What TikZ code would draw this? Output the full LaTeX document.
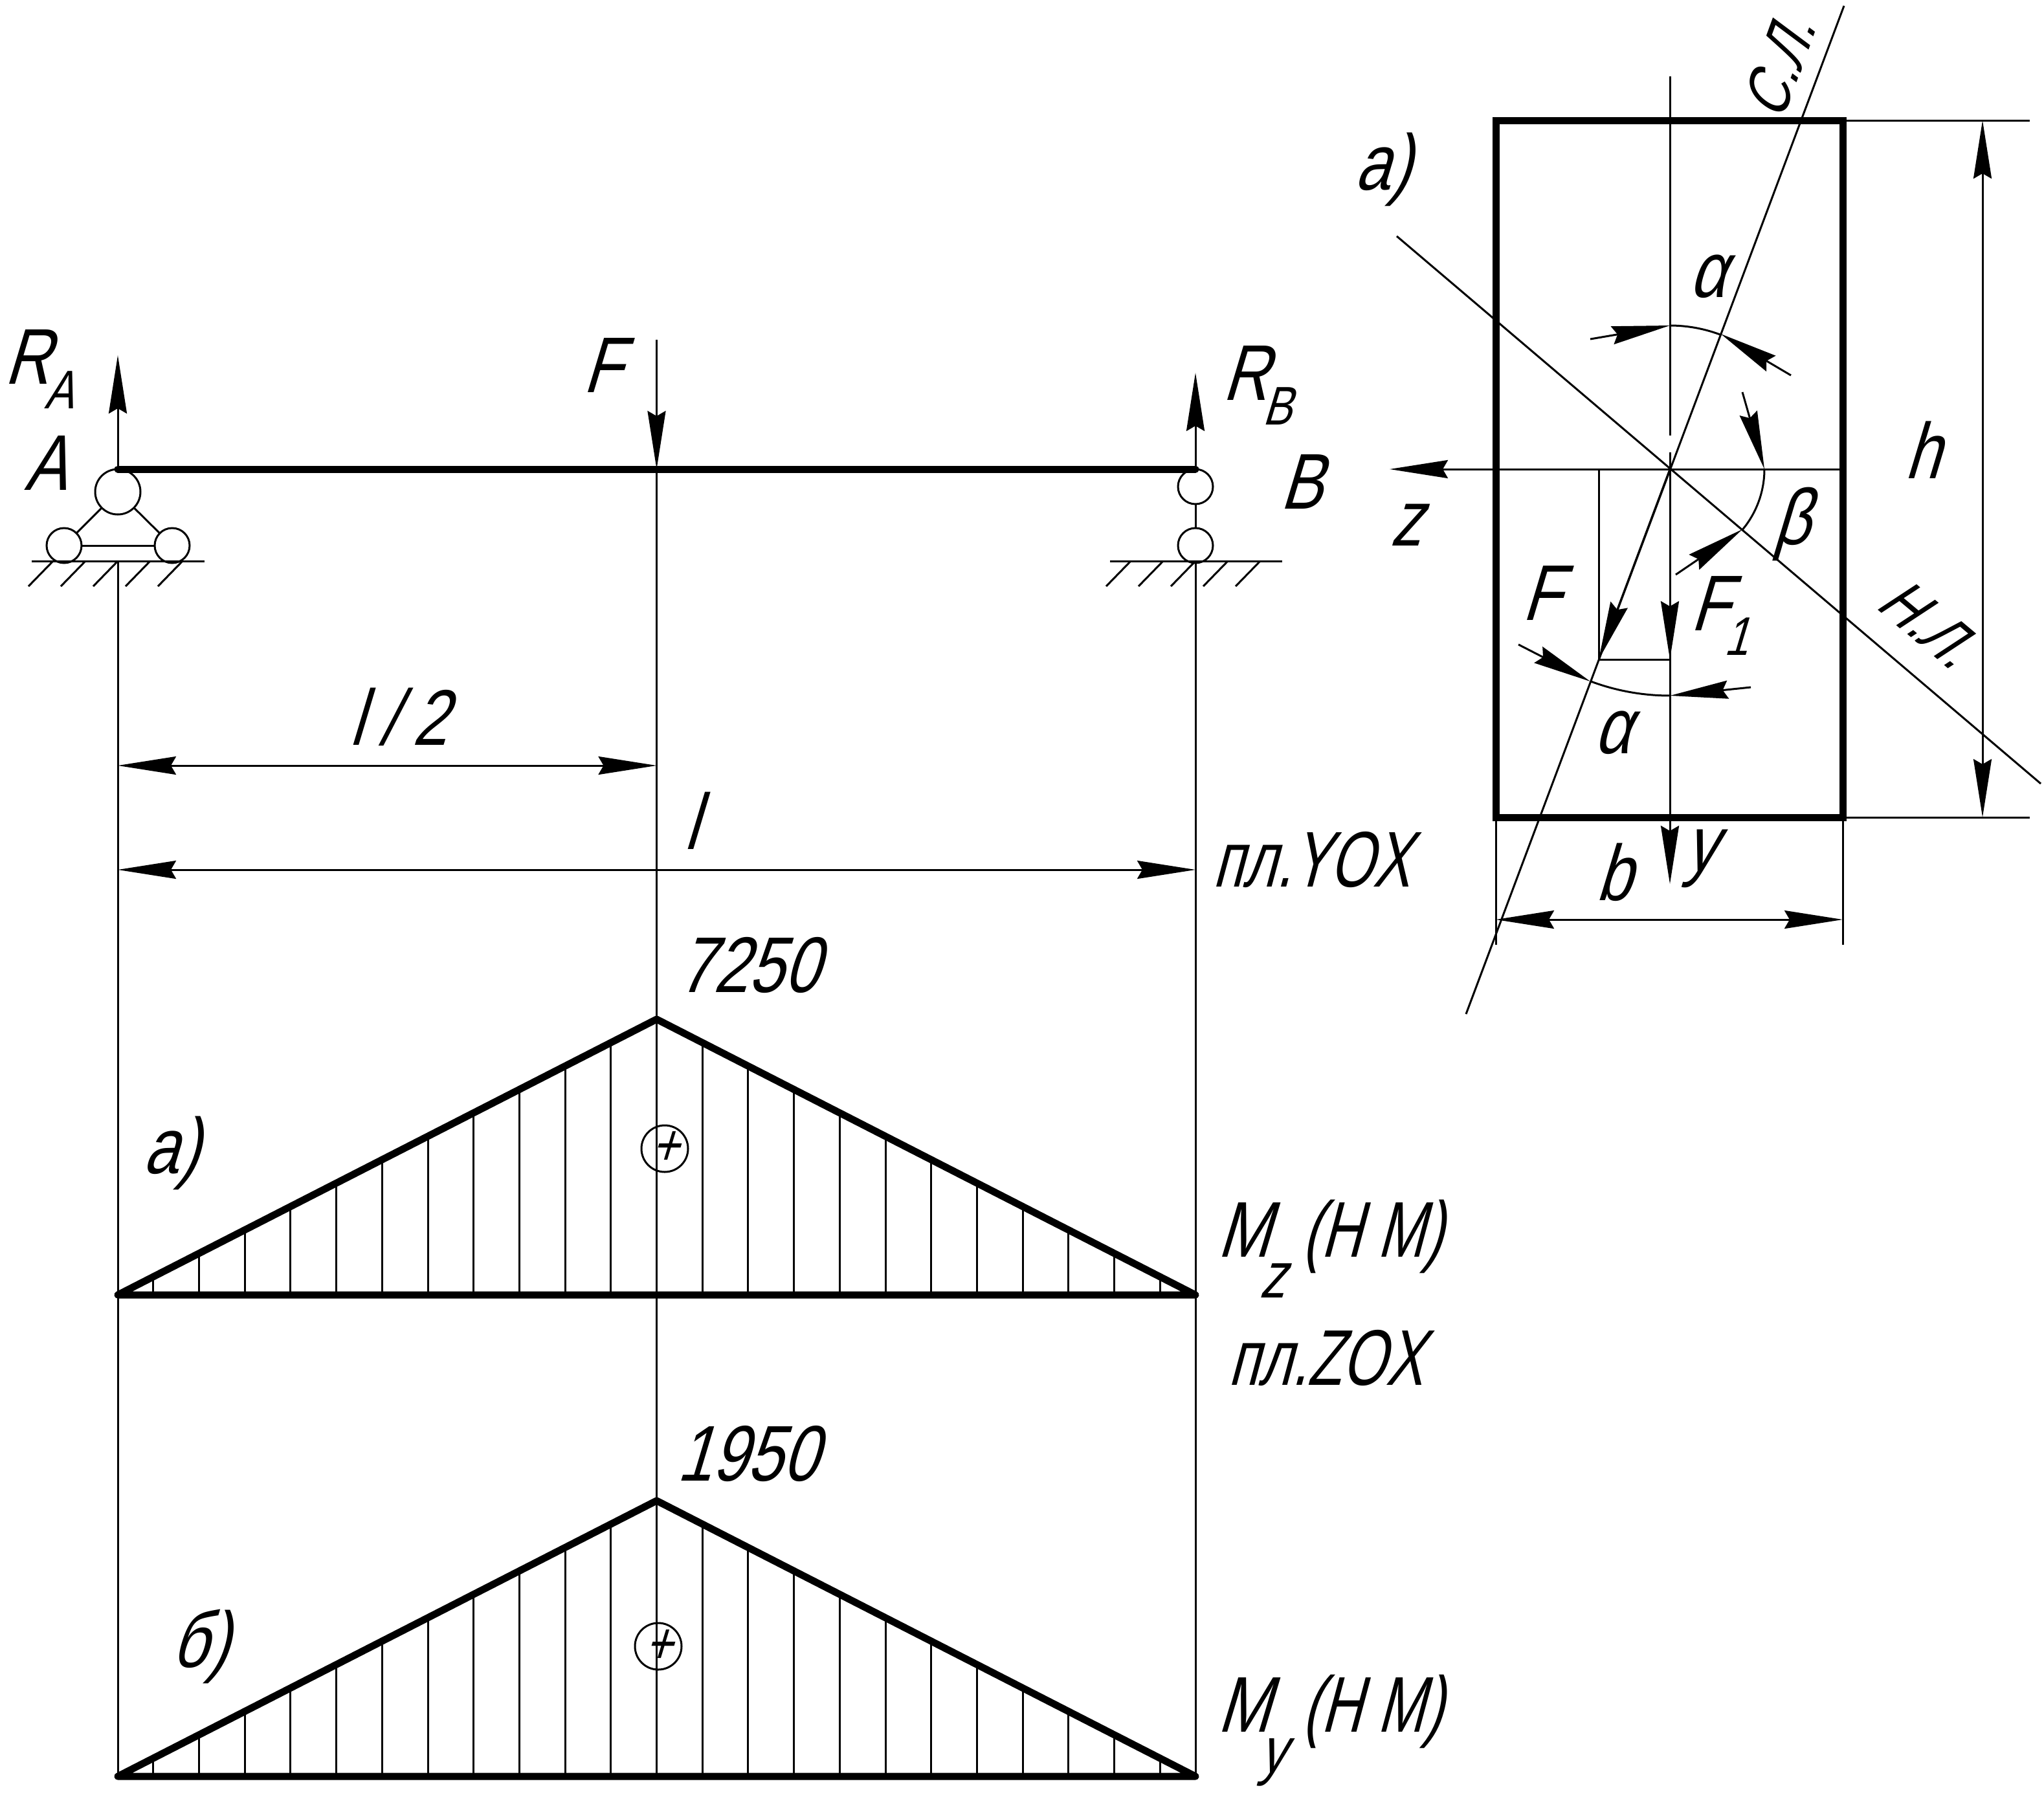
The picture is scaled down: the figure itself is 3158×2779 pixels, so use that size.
\documentclass[tikz,border=0pt]{standalone}
\usepackage{fontspec}
\setmainfont{Liberation Sans}[FakeSlant=0.3,FakeStretch=0.8]
\usetikzlibrary{arrows.meta}
\newcommand{\fsz}[1]{\fontsize{#1}{#1}\selectfont}
\newcommand{\lowr}[2]{\kern-8pt\raisebox{-#1pt}{\fsz{84}#2}}
\newcommand{\narrow}[1]{\scalebox{0.89}[1]{#1}}
\tikzset{
  thin line/.style={line width=3pt,line cap=butt},
  thick line/.style={line width=11pt,line cap=round,line join=miter},
  head/.style={-{Stealth[length=90pt,width=28pt,inset=8pt]}},
  headb/.style={{Stealth[length=90pt,width=28pt,inset=8pt]}-{Stealth[length=90pt,width=28pt,inset=8pt]}},
  lab/.style={inner sep=0pt,outer sep=0pt,font=\fsz{122}},
  hinge/.style={circle,draw,line width=3pt,fill=white,inner sep=0pt},
}
\begin{document}
\begin{tikzpicture}[x=1pt,y=-1pt]
\useasboundingbox (0,0) rectangle (3158,2779);
% beam points
\coordinate (A) at (182,725);
\coordinate (B) at (1847,725);
\coordinate (C) at (1014.5,725);
\coordinate (Abot) at (182,2745);
\coordinate (Bbot) at (1847,2745);
% extension lines
\draw[thin line] (182,867) -- (Abot);
\draw[thin line] (1847,867) -- (Bbot);
\draw[thin line] (C) -- (1014.5,2745);
% reactions and force
\draw[thin line,head] (A) -- (182,549);
\draw[thin line,head] (B) -- (1847,576);
\draw[thin line,head] (1014.5,525) -- (C);
% left support
\draw[thin line] (182,760) -- (99,843);
\draw[thin line] (182,760) -- (266,843);
\draw[thin line] (99,843) -- (266,843);
\node[hinge,minimum size=70pt] (ha) at (182,760) {};
\node[hinge,minimum size=54pt] (hb) at (99,843) {};
\node[hinge,minimum size=54pt] (hc) at (266,843) {};
\draw[thin line] (49,867) -- (316,867);
\foreach \x in {82,132,182,232,282} \draw[thin line] (\x,867) -- ++(-38,39);
% right support
\draw[thin line] (1847,752) -- (1847,843);
\node[hinge,minimum size=54pt] (hd) at (1847,752) {};
\node[hinge,minimum size=54pt] (he) at (1847,843) {};
\draw[thin line] (1715,867) -- (1981,867);
\foreach \x in {1747,1797,1847,1897,1947} \draw[thin line] (\x,867) -- ++(-38,39);
% beam
\draw[thick line] (A) -- (B);
% dimensions
\draw[thin line,headb] (182,1183) -- (1014.5,1183);
\draw[thin line,headb] (182,1344) -- (1847,1344);
% hatching
\foreach \k in {1,...,11}{
  \pgfmathsetmacro{\dx}{70.7*\k}
  \pgfmathsetmacro{\ya}{2001-(832.5-\dx)*0.5117}
  \pgfmathsetmacro{\yb}{2745-(832.5-\dx)*0.5117}
  \draw[thin line] ({1014.5-\dx},2001) -- ({1014.5-\dx},\ya);
  \draw[thin line] ({1014.5+\dx},2001) -- ({1014.5+\dx},\ya);
  \draw[thin line] ({1014.5-\dx},2745) -- ({1014.5-\dx},\yb);
  \draw[thin line] ({1014.5+\dx},2745) -- ({1014.5+\dx},\yb);
}
% moment diagrams
\draw[thick line,line join=round] (182,2001) -- (1014.5,1575) -- (1847,2001) -- cycle;
\draw[thick line,line join=round] (182,2745) -- (1014.5,2319) -- (1847,2745) -- cycle;
\node[hinge,minimum size=72pt,fill=none] (p1) at (1027,1775) {};
\node[hinge,minimum size=72pt,fill=none] (p2) at (1017,2544) {};
\node[lab,font=\fsz{90}] (plus1) at (1027,1775) {+};
\node[lab,font=\fsz{90}] (plus2) at (1017,2544) {+};
% section
\coordinate (O) at (2580,725);
\draw[thin line] (2580,118) -- (2580,673);
\draw[thin line] (2580,699) -- (2580,1263);
\draw[thin line] (2849,9) -- (2265,1567);
\draw[thin line] (2158,365) -- (3153,1211);
\draw[thin line] (2847,186) -- (3136,186);
\draw[thin line] (2847,1263) -- (3136,1263);
\draw[thin line] (2311,1263) -- (2311,1460);
\draw[thin line] (2847,1263) -- (2847,1460);
\draw[thin line,headb] (3063,186) -- (3063,1263);
\draw[thin line,headb] (2311,1421) -- (2847,1421);
\draw[thin line,head] (2847,725) -- (2147,725);
\draw[thin line,head] (2580,1263) -- (2580,1366);
\draw[thin line,head] (2580,725) -- (2580,1019);
\draw[thin line,head] (O) -- (2470,1019);
\draw[thin line] (2470,725) -- (2470,1019) -- (2580,1019);
% angle arcs
\draw[thin line] plot[smooth,domain=90:69.5,samples=12] ({2580+222*cos(\x)},{725-222*sin(\x)});
\draw[thin line] plot[smooth,domain=0:-39.6,samples=12] ({2580+146*cos(\x)},{725-146*sin(\x)});
\draw[thin line] plot[smooth,domain=-110.5:-90,samples=12] ({2580+350*cos(\x)},{725-350*sin(\x)});
\draw[thin line,head] (2457,524) -- (2580,503);
\draw[thin line,head] (2767,580) -- (2658.6,516);
\draw[thin line,head] (2692,606) -- (2726,725);
\draw[thin line,head] (2589,888) -- (2692,818);
\draw[thin line,head] (2346,996) -- (2457,1053);
\draw[thin line,head] (2705,1062) -- (2580,1075);
% rectangle
\draw[thick line,line join=miter] (2311,186) rectangle (2847,1263);
% labels
\node[lab] (ra) at (60,571) {R\lowr{38}{A}};
\node[lab] (la) at (70,716) {A};
\node[lab] (lf) at (930,565) {F};
\node[lab] (rb) at (1942,596) {R\lowr{38}{B}};
\node[lab] (lb) at (2010,745) {B};
\node[lab] (l2) at (615,1108) {l\kern24pt/\kern24pt2};
\node[lab] (ll) at (1067,1268) {l};
\node[lab] (p3) at (2026,1328) {\narrow{пл.YOX}};
\node[lab] (n7) at (1156,1491) {7250};
\node[lab] (sa) at (264,1782) {а)};
\node[lab,anchor=base west] (mz) at (1880,1942) {M\kern-16pt\raisebox{-63pt}{\fsz{100}z}\kern26pt\narrow{(Н М)}};
\node[lab,anchor=base] (p4) at (2048,2140) {\narrow{пл.ZOX}};
\node[lab] (n1) at (1154,2246) {1950};
\node[lab] (sb) at (309,2544) {б)};
\node[lab,anchor=base west] (my) at (1880,2676) {M\kern-16pt\raisebox{-63pt}{\fsz{100}y}\kern26pt\narrow{(Н М)}};
\node[lab] (sc) at (2136,262) {а)};
\node[lab,font=\fsz{100},rotate=70] (sl) at (2748,104) {С.Л.};
\node[lab,font=\fsz{100},rotate=-40] (nl) at (2978,962) {Н.Л.};
\node[lab] (al1) at (2638,427) {α};
\node[lab] (be) at (2768,810) {β};
\node[lab] (hh) at (2970,695) {h};
\node[lab] (zz) at (2172,811) {z};
\node[lab] (f2) at (2381,917) {F};
\node[lab] (f1) at (2656,952) {F\lowr{38}{1}};
\node[lab] (al2) at (2491,1132) {α};
\node[lab] (yy) at (2627,1327) {y};
\node[lab] (bb) at (2493,1348) {b};
\end{tikzpicture}
\end{document}
